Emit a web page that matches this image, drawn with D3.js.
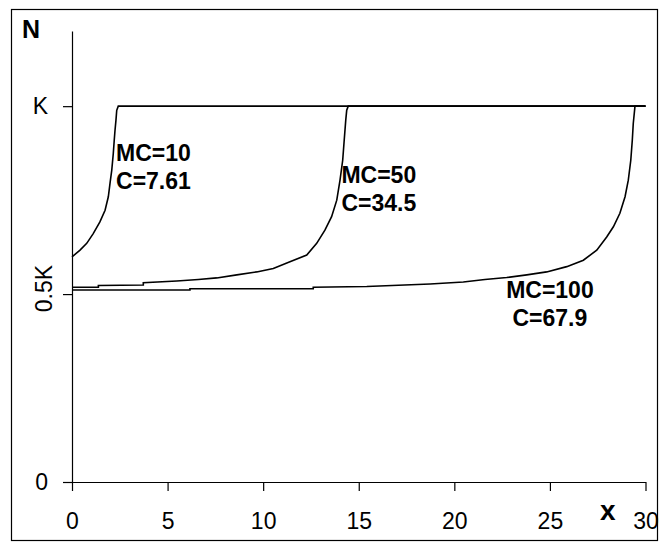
<!DOCTYPE html>
<html>
<head>
<meta charset="utf-8">
<script src="https://cdn.jsdelivr.net/npm/d3@7"></script>
<style>
	body { margin: 0; background: #fff; }
	svg { display: block; font-family: "Liberation Sans", Arial, sans-serif; }
	.axis path, .axis line { stroke: #000; stroke-width: 1.2; }
	.axis text { font-size: 23px; fill: #000; }
	.curve { fill: none; stroke: #000; stroke-width: 1.6; }
	.note { font-size: 23px; font-weight: bold; }
</style>
</head>
<body>
<script>
// tick values and labels
const xTicks = [0, 5, 10, 15, 20, 25, 30];
const yTicks = [0, 0.5, 1];
const yTickLabels = ["0", "0.5K", "K"];

// N/K, x from 0 to 30
const mc10 = [
	[0, 0.599], [0.42, 0.617], [0.77, 0.635], [1.11, 0.661], [1.46, 0.692],
	[1.73, 0.723], [1.90, 0.759], [1.99, 0.795], [2.08, 0.830], [2.16, 0.874],
	[2.21, 0.910], [2.25, 0.936], [2.30, 0.963], [2.34, 0.989], [2.42, 1], [30, 1]
];
const mc50 = [
	[0, 0.518], [1.38, 0.518], [1.38, 0.523], [3.73, 0.524], [3.73, 0.530],
	[5.48, 0.535], [6.61, 0.539], [7.57, 0.543], [8.62, 0.551], [9.66, 0.559],
	[10.53, 0.568], [11.40, 0.586], [12.28, 0.604], [12.80, 0.635], [13.23, 0.670],
	[13.58, 0.706], [13.85, 0.750], [14.02, 0.803], [14.16, 0.856], [14.24, 0.910],
	[14.32, 0.963], [14.37, 0.989], [14.45, 1], [30, 1]
];
const mc100 = [
	[0, 0.511], [6.17, 0.511], [6.17, 0.514], [12.62, 0.514], [12.62, 0.518],
	[15.42, 0.520], [18.73, 0.527], [20.47, 0.532], [21.60, 0.539], [22.74, 0.544],
	[23.79, 0.551], [24.83, 0.559], [25.88, 0.573], [26.75, 0.590], [27.45, 0.617],
	[27.97, 0.652], [28.32, 0.679], [28.66, 0.715], [28.93, 0.759], [29.10, 0.803],
	[29.23, 0.856], [29.31, 0.910], [29.36, 0.954], [29.45, 1], [30, 1]
];

const notes = [
	{ lines: ["MC=10", "C=7.61"], x: 4.26, y: 0.855 },
	{ lines: ["MC=50", "C=34.5"], x: 16.05, y: 0.795 },
	{ lines: ["MC=100", "C=67.9"], x: 25.0, y: 0.49 }
];

const width = 659,
	height = 542;

const svg = d3.select("body")
	.append("svg")
	.attr("width", width)
	.attr("height", height);

// outer frame
svg.append("rect")
	.attr("x", 11.5)
	.attr("y", 9.5)
	.attr("width", 646)
	.attr("height", 531)
	.attr("fill", "none")
	.attr("stroke", "#000")
	.attr("stroke-width", 1.2);

const x = d3.scaleLinear().domain([0, 30]).range([72, 645.5]);
const y = d3.scaleLinear().domain([0, 1.2]).range([482, 31]);

const xAxis = d3.axisBottom(x)
	.tickValues(xTicks)
	.tickSize(9)
	.tickPadding(22)
	.tickSizeOuter(0);

const yAxis = d3.axisLeft(y)
	.tickValues(yTicks)
	.tickFormat((d, i) => yTickLabels[i])
	.tickSize(9)
	.tickPadding(15)
	.tickSizeOuter(0);

svg.append("g")
	.attr("class", "axis")
	.attr("transform", "translate(0,482)")
	.call(xAxis);

const gy = svg.append("g")
	.attr("class", "axis")
	.attr("transform", "translate(72,0)")
	.call(yAxis);

// the 0.5K label stands on its side
gy.selectAll(".tick text")
	.filter(d => d === 0.5)
	.attr("x", null)
	.attr("dy", null)
	.attr("text-anchor", "middle")
	.attr("transform", "translate(-20,-6) rotate(-90)");

const line = d3.line()
	.x(d => x(d[0]))
	.y(d => y(d[1]));

svg.selectAll(".curve")
	.data([mc10, mc50, mc100])
	.enter()
	.append("path")
	.attr("class", "curve")
	.attr("d", line);

notes.forEach(n => {
	const t = svg.append("text")
		.attr("class", "note")
		.attr("text-anchor", "middle");
	n.lines.forEach((s, i) => {
		t.append("tspan")
			.attr("x", x(n.x))
			.attr("y", y(n.y) + i * 28)
			.text(s);
	});
});

svg.append("text")
	.attr("x", 22)
	.attr("y", 38)
	.attr("font-size", 25)
	.attr("font-weight", "bold")
	.text("N");

svg.append("text")
	.attr("x", 600)
	.attr("y", 520)
	.attr("font-size", 28)
	.attr("font-weight", "bold")
	.text("x");
</script>
</body>
</html>
